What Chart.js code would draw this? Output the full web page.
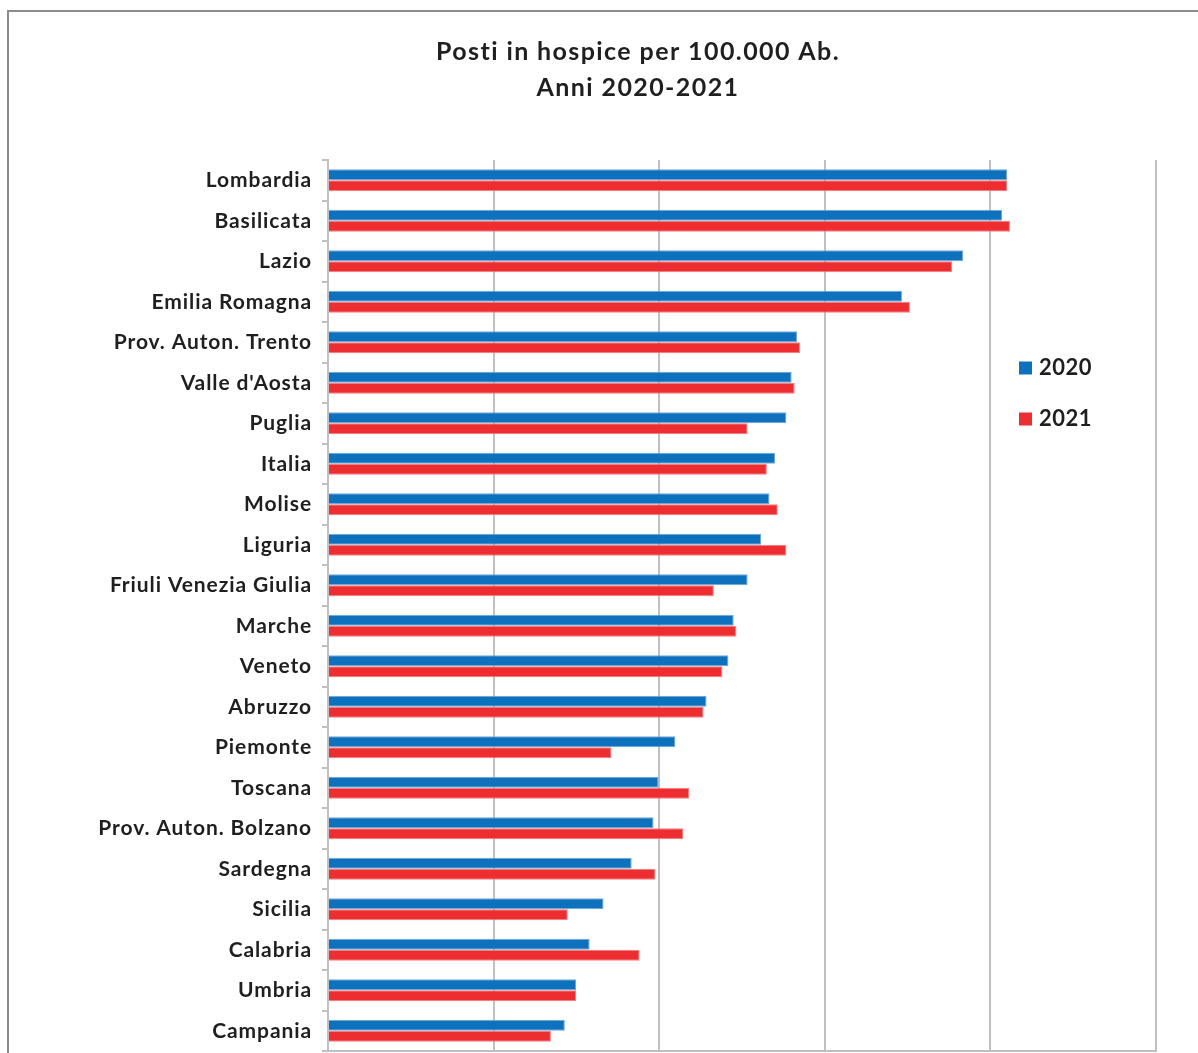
<!DOCTYPE html>
<html>
<head>
<meta charset="utf-8">
<script src="https://cdn.jsdelivr.net/npm/chart.js@4.4.1/dist/chart.umd.min.js"></script>
<style>
    html, body { margin: 0; padding: 0; background: #fff; overflow: hidden; }
    .frame {
        position: absolute; left: 7px; top: 10px; width: 1250px; height: 1100px;
        border: 2px solid #8c8c8c; box-sizing: border-box;
    }
    .wrap { position: absolute; left: 0; top: 0; width: 1198px; height: 1053px; }
</style>
</head>
<body>
<div class="frame"></div>
<div class="wrap"><canvas id="chartCanvas"></canvas></div>
<script>
// ============================================
// DATA
// ============================================
const regions = [
    'Lombardia', 'Basilicata', 'Lazio', 'Emilia Romagna', 'Prov. Auton. Trento',
    "Valle d'Aosta", 'Puglia', 'Italia', 'Molise', 'Liguria',
    'Friuli Venezia Giulia', 'Marche', 'Veneto', 'Abruzzo', 'Piemonte',
    'Toscana', 'Prov. Auton. Bolzano', 'Sardegna', 'Sicilia', 'Calabria',
    'Umbria', 'Campania'
];
const values2020 = [
    20.51, 20.35, 19.18, 17.33, 14.16,
    14.00, 13.84, 13.50, 13.33, 13.08,
    12.67, 12.25, 12.09, 11.43, 10.49,
    9.98, 9.83, 9.17, 8.32, 7.90,
    7.49, 7.15
];
const values2021 = [
    20.51, 20.59, 18.84, 17.57, 14.25,
    14.09, 12.67, 13.25, 13.58, 13.84,
    11.65, 12.33, 11.91, 11.34, 8.56,
    10.91, 10.73, 9.89, 7.24, 9.41,
    7.49, 6.73
];
const seriesNames = ['2020', '2021'];
const titleLines = ['Posti in hospice per 100.000 Ab.', 'Anni 2020-2021'];
const xTicks = [0, 5, 10, 15, 20, 25];

// ============================================
// CHART
// ============================================
const FONT = 'Lato, "Open Sans", sans-serif';
const GRID = '#bfbfc4';
const TEXT = '#1f1f1f';

// title drawn by hand so it can be centred on the frame and tracked a bit
const frameTitle = {
    id: 'frameTitle',
    beforeDraw(chart) {
        // wider tracking for the axis labels, like the original
        chart.ctx.letterSpacing = '0.9px';
    },
    afterDraw(chart, args, opts) {
        const ctx = chart.ctx;
        ctx.save();
        ctx.letterSpacing = '1.4px';
        ctx.fillStyle = TEXT;
        ctx.font = 'bold 25px ' + FONT;
        ctx.textAlign = 'center';
        ctx.textBaseline = 'middle';
        titleLines.forEach(function(line, i) {
            ctx.fillText(line, opts.x, opts.y + i * opts.lineHeight);
        });
        ctx.restore();
    }
};

// legend drawn on the right, as in the original sheet
const sideLegend = {
    id: 'sideLegend',
    afterDraw(chart, args, opts) {
        const ctx = chart.ctx;
        ctx.save();
        ctx.letterSpacing = '0.5px';
        chart.data.datasets.forEach(function(ds, i) {
            const y = opts.y + i * opts.gap;
            ctx.fillStyle = ds.backgroundColor;
            ctx.fillRect(opts.x, y - opts.box / 2, opts.box, opts.box);
            ctx.fillStyle = TEXT;
            ctx.font = 'bold 22px ' + FONT;
            ctx.textBaseline = 'middle';
            ctx.textAlign = 'left';
            ctx.fillText(ds.label, opts.x + opts.box + 7, y);
        });
        ctx.restore();
    }
};

const ctx = document.getElementById('chartCanvas').getContext('2d');
new Chart(ctx, {
    type: 'bar',
    data: {
        labels: regions,
        datasets: [{
            label: seriesNames[0],
            data: values2020,
            backgroundColor: '#0e71bd',
            borderColor: '#6fa6d6',
            borderWidth: 1
        }, {
            label: seriesNames[1],
            data: values2021,
            backgroundColor: '#ee2d30',
            borderColor: '#f47b7c',
            borderWidth: 1
        }]
    },
    options: {
        indexAxis: 'y',
        responsive: true,
        maintainAspectRatio: false,
        animation: false,
        barPercentage: 1,
        categoryPercentage: 0.544,
        layout: { autoPadding: false, padding: { left: 0, right: 42, top: 160, bottom: 2 } },
        plugins: {
            legend: { display: false },
            tooltip: { enabled: false },
            title: { display: false },
            frameTitle: { x: 638, y: 52, lineHeight: 36 },
            sideLegend: { x: 1019, y: 368, gap: 51, box: 13 }
        },
        scales: {
            x: {
                min: xTicks[0],
                max: xTicks[xTicks.length - 1],
                afterBuildTicks: function(scale) {
                    scale.ticks = xTicks.map(function(v) { return { value: v }; });
                },
                ticks: { display: false },
                grid: { color: GRID, lineWidth: 2, drawTicks: false },
                border: { color: GRID, width: 2 }
            },
            y: {
                afterFit: function(scale) {
                    scale.width = 328;
                    scale.paddingTop = 0;
                    scale.paddingBottom = 0;
                },
                ticks: {
                    color: TEXT,
                    padding: 10,
                    font: { family: FONT, size: 21, weight: 'bold' }
                },
                grid: {
                    offset: true,
                    drawOnChartArea: false,
                    tickLength: 6,
                    color: GRID,
                    lineWidth: 2
                },
                border: { color: GRID, width: 2 }
            }
        }
    },
    plugins: [frameTitle, sideLegend]
});
</script>
</body>
</html>
